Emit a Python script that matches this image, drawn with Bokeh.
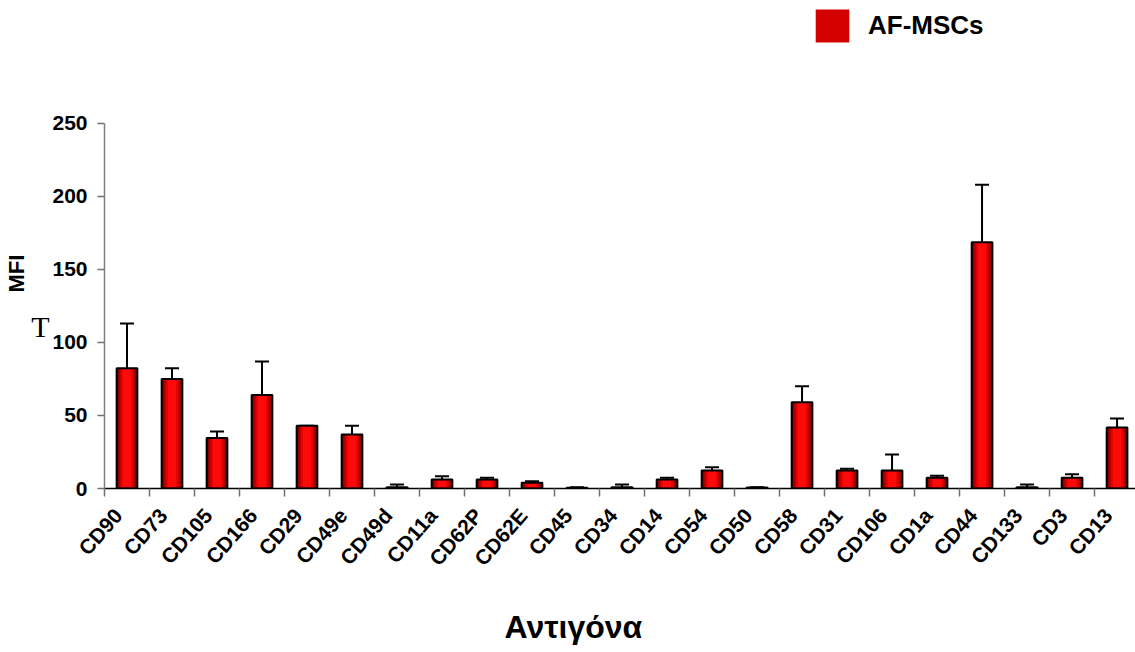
import numpy as np
from bokeh.plotting import figure
from bokeh.models import (Range1d, FixedTicker, ColumnDataSource, Whisker, TeeHead,
                          Legend, LegendItem, LinearAxis, Title)
from bokeh.embed import file_html
from bokeh.resources import INLINE

# ---- data ----
antigens = ["CD90", "CD73", "CD105", "CD166", "CD29", "CD49e", "CD49d", "CD11a",
            "CD62P", "CD62E", "CD45", "CD34", "CD14", "CD54", "CD50", "CD58",
            "CD31", "CD106", "CD1a", "CD44", "CD133", "CD3", "CD13"]
mfi = [82.4, 75.0, 34.5, 64.0, 43.0, 37.0, 0.9, 6.2, 6.2, 3.9, 0.5, 0.9, 6.2,
       12.3, 0.6, 59.0, 12.3, 12.3, 7.3, 168.7, 0.9, 7.3, 41.8]
sd = [30.6, 7.4, 4.5, 23.0, 0.0, 6.0, 1.8, 2.2, 1.1, 1.1, 0.3, 1.8, 1.1, 2.3,
      0.3, 11.0, 1.2, 11.0, 1.4, 39.3, 1.8, 2.5, 6.2]
y_ticks = [0, 50, 100, 150, 200, 250]
series_name = "AF-MSCs"
y_title = "MFI"
x_title = "Αντιγόνα"
stray_mark = "T"          # stray serif glyph left of the "100" tick label
stray_mark_level = 111

FONT = "Liberation Sans"
n = len(antigens)
centers = np.arange(n) + 0.5
boundaries = np.arange(n + 1).astype(float)
hi = [m + s for m, s in zip(mfi, sd)]

src = ColumnDataSource(dict(x=centers, top=mfi, hi=hi))

p = figure(frame_width=1031, frame_height=488,
           x_range=Range1d(0, 22.91), y_range=Range1d(0, 334.2),
           output_backend="svg", toolbar_location=None,
           min_border_left=104, min_border_right=0, min_border_top=0, min_border_bottom=0)
p.outline_line_color = None
p.xgrid.visible = False
p.ygrid.visible = False
p.background_fill_color = "white"

BW = 0.46
# base fill (also used for the legend swatch), then a shaded horizontal gradient
base = p.vbar(x="x", top="top", bottom=0, width=BW, source=src,
              fill_color="#d40000", line_color=None)
layers = [(1.0, "#6a0000"), (0.86, "#960000"), (0.72, "#c20000"), (0.56, "#e80000"), (0.40, "#ff0a0a")]
for frac, col in layers:
    p.vbar(x="x", top="top", bottom=0, width=BW * frac, source=src,
           fill_color=col, line_color=None)
p.vbar(x="x", top="top", bottom=0, width=BW, source=src,
       fill_color=None, line_color="black", line_width=2)

wh = Whisker(base="x", lower="top", upper="hi", source=src, dimension="height",
             line_color="black", line_width=2, lower_head=None,
             upper_head=TeeHead(size=14, line_color="black", line_width=2))
p.add_layout(wh)

# legend
legend = Legend(items=[LegendItem(label=series_name, renderers=[base])],
                location=(707, 442), padding=0, margin=0, spacing=0,
                glyph_width=42, glyph_height=41, label_standoff=15,
                label_text_font=FONT, label_text_font_style="bold",
                label_text_font_size="26px", label_text_color="black",
                border_line_color=None, background_fill_alpha=0)
p.add_layout(legend, "center")

# x axis
xa = p.xaxis[0]
label_pos = list(centers - 0.2)
xa.ticker = FixedTicker(ticks=label_pos, minor_ticks=list(boundaries))
xa.major_label_overrides = {float(c): a for c, a in zip(label_pos, antigens)}
xa.major_label_orientation = 0.85
xa.major_tick_line_color = None
xa.major_tick_out = 0
xa.major_tick_in = 0
xa.minor_tick_in = 0
xa.minor_tick_out = 8
xa.minor_tick_line_color = "#707070"
xa.minor_tick_line_width = 1.5
xa.axis_line_color = "black"
xa.axis_line_width = 1.5
xa.major_label_text_font = FONT
xa.major_label_text_font_style = "bold"
xa.major_label_text_font_size = "21px"
xa.major_label_text_color = "black"
xa.major_label_standoff = 15

# y axis
ya = p.yaxis[0]
ya.ticker = FixedTicker(ticks=y_ticks)
ya.bounds = (0, 250)
ya.minor_tick_line_color = None
ya.major_tick_in = 0
ya.major_tick_out = 7
ya.major_tick_line_color = "#707070"
ya.major_tick_line_width = 1.5
ya.axis_line_color = "#808080"
ya.axis_line_width = 1.5
ya.major_label_text_font = FONT
ya.major_label_text_font_style = "bold"
ya.major_label_text_font_size = "21px"
ya.major_label_text_color = "black"
ya.major_label_standoff = 10

# stray serif "T" as an extra, bare left axis
ta = LinearAxis(ticker=FixedTicker(ticks=[stray_mark_level]),
                major_label_overrides={stray_mark_level: stray_mark},
                axis_line_color=None, major_tick_line_color=None, minor_tick_line_color=None,
                major_tick_out=0, major_tick_in=0, major_label_standoff=0,
                major_label_text_font="Liberation Serif", major_label_text_font_size="30px",
                major_label_text_color="black")
p.add_layout(ta, "left")

# titles
p.add_layout(Title(text=y_title, align="left", offset=196, standoff=0,
                   text_font=FONT, text_font_style="bold", text_font_size="22px",
                   text_color="black"), "left")
p.add_layout(Title(text=x_title, align="left", offset=400, standoff=53,
                   text_font=FONT, text_font_style="bold", text_font_size="32px",
                   text_color="black"), "below")

open("out.html", "w").write(file_html(p, INLINE))
